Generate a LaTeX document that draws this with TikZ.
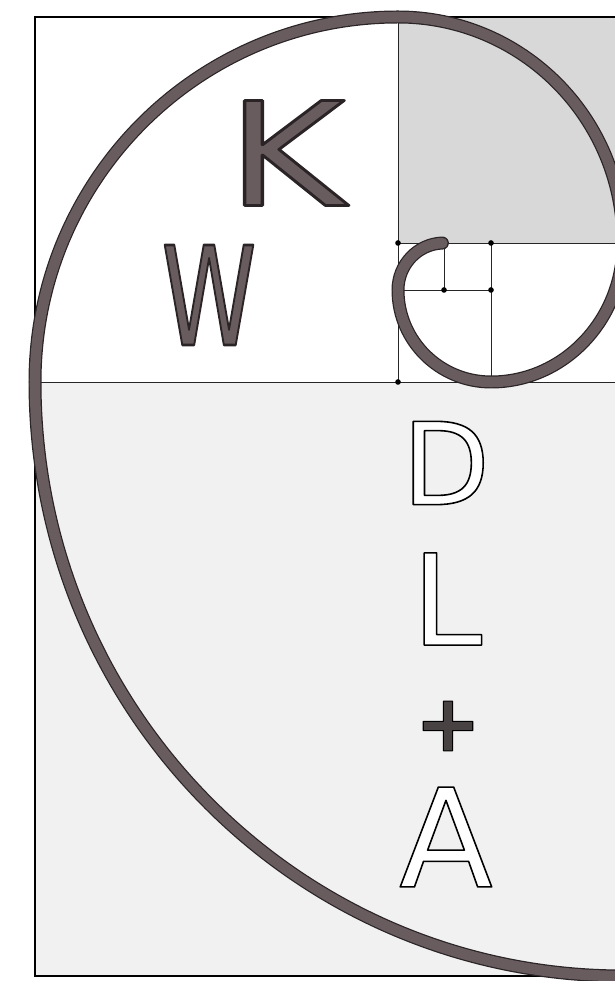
\documentclass[tikz,border=0pt]{standalone}
\usepackage{fontspec}
\usepackage{tikz}
\usetikzlibrary{positioning,calc}

\newfontfamily\pipefont{DejaVu Sans}
\definecolor{pipefill}{RGB}{104,92,94}
\definecolor{pipeedge}{RGB}{42,36,38}
\definecolor{plusfill}{RGB}{72,66,66}
\definecolor{sqgray}{RGB}{216,216,216}
\definecolor{sqlight}{RGB}{241,241,241}

% filled glyphs with a stroked edge (text render mode 2)
\newcommand{\edgetext}[4]{{\color{#2}\special{pdf:literal direct 2 Tr #4 w 1 j #3 RG}#1\special{pdf:literal direct 0 Tr}}}
\newcommand{\pipetext}[1]{\edgetext{#1}{pipefill}{0.165 0.141 0.149}{1.5}}
\newcommand{\hollowtext}[1]{\edgetext{#1}{white}{0 0 0}{0.9}}

\begin{document}
\begin{tikzpicture}[
    x=0.02cm, y=0.02cm,
    frame/.style={draw=black, line width=0.85pt},
    grid/.style={draw=black!85, line width=0.55pt},
    pipe/.style={draw=pipeedge, line width=0.7pt, double=pipefill, double distance=6pt, line cap=round},
    knot/.style={circle, fill=black, inner sep=0pt, minimum size=3.2pt},
    letter/.style={inner sep=0pt, font=\pipefont}
]
    \useasboundingbox (0,0) rectangle (615,981);
    \clip (0,0) rectangle (615,981);

    % squares
    \fill [sqlight] (35,5) rectangle (623,599);
    \fill [sqgray] (398,738) rectangle (623,964);
    \draw [frame] (35,5) rectangle (623,964);
    \draw [grid] (35,599) -- (623,599);
    \draw [grid] (398,599) -- (398,964);
    \draw [grid] (398,738) -- (623,738);
    \draw [grid] (491,599) -- (491,738);
    \draw [grid] (398,691) -- (491,691);
    \draw [grid] (444,691) -- (444,738);

    \node [knot] (j1) at (398,738) {};
    \node [knot] (j2) at (444,738) {};
    \node [knot] (j3) at (491,738) {};
    \node [knot] (j4) at (444,691) {};
    \node [knot] (j5) at (491,691) {};
    \node [knot] (j6) at (398,599) {};

    % spiral
    \draw [pipe] (623,5)
        arc [start angle=270, end angle=180, x radius=588, y radius=594]
        arc [start angle=180, end angle=90, x radius=363, y radius=365]
        arc [start angle=90, end angle=0, x radius=225, y radius=226]
        arc [start angle=0, end angle=-90, x radius=132, y radius=139]
        arc [start angle=270, end angle=180, x radius=93, y radius=92]
        arc [start angle=180, end angle=92, x radius=46, y radius=47];

    % letters
    \node [letter, font=\pipefont\fontsize{82}{82}\selectfont, xscale=1.25] (k) at (286,828) {\pipetext{K}};
    \node [letter, font=\pipefont\fontsize{78}{78}\selectfont, xscale=0.7] (w) at (209,686) {\pipetext{W}};
    \node [letter, font=\pipefont\fontsize{65}{65}\selectfont] (d) at (446,518) {\hollowtext{D}};
    \node [letter, font=\pipefont\fontsize{72}{72}\selectfont] (l) at (447,382) {\hollowtext{L}};
    \node [letter, font=\pipefont\bfseries\fontsize{45}{45}\selectfont] (plus) at (448,255) {\edgetext{+}{plusfill}{0 0 0}{0.6}};
    \node [letter, font=\pipefont\fontsize{78}{78}\selectfont] (a) at (446,144) {\hollowtext{A}};
\end{tikzpicture}
\end{document}
